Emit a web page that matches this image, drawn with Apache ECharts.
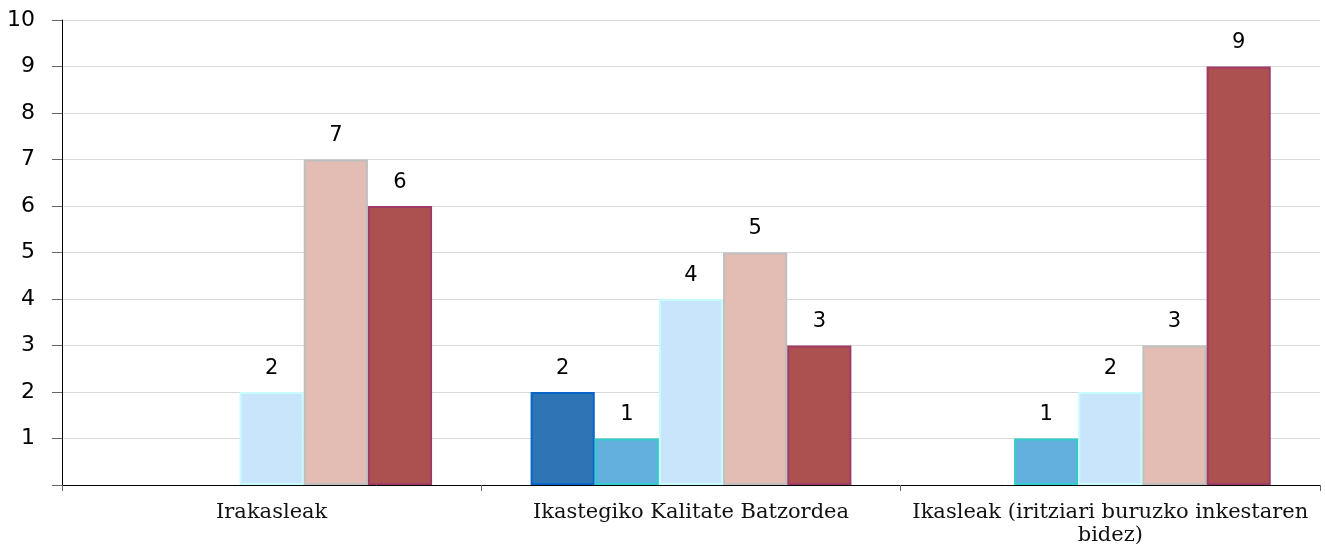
<!DOCTYPE html>
<html>
<head>
<meta charset="utf-8">
<script src="https://cdn.jsdelivr.net/npm/echarts@6/dist/echarts.min.js"></script>
<style>
  html, body { margin: 0; padding: 0; background: #fff; }
  #chart { width: 1325px; height: 550px; }
</style>
</head>
<body>
<div id="chart"></div>
<script>
// categories and series values (null = no bar)
const categories = ['Irakasleak', 'Ikastegiko Kalitate Batzordea', 'Ikasleak (iritziari buruzko inkestaren\nbidez)'];
const seriesA = [null, 2, null];
const seriesB = [null, 1, 1];
const seriesC = [2, 4, 2];
const seriesD = [7, 5, 3];
const seriesE = [6, 3, 9];

const fills = ['#2e75b6', '#63b0de', '#c9e5fc', '#e3bdb3', '#ad5050'];
const borders = ['#0a64c8', '#33cccc', '#c8fbfb', '#bfbfbf', '#9e3b66'];
const allData = [seriesA, seriesB, seriesC, seriesD, seriesE];

const chart = echarts.init(document.getElementById('chart'));

const series = allData.map((d, i) => ({
    type: 'bar',
    data: d,
    barGap: '0%',
    barCategoryGap: '23.5%',
    itemStyle: {
        color: fills[i],
        borderColor: borders[i],
        borderWidth: 2
    },
    label: {
        show: true,
        position: 'top',
        distance: 13,
        color: '#000',
        fontSize: 21,
        fontFamily: 'DejaVu Sans'
    }
}));

chart.setOption({
    animation: false,
    grid: { left: 62, right: 5, top: 20, bottom: 65 },
    xAxis: {
        type: 'category',
        data: categories,
        axisLine: { lineStyle: { color: '#000', width: 1 } },
        axisTick: { show: true, length: 6, lineStyle: { color: '#666' } },
        axisLabel: {
            color: '#111',
            fontSize: 21,
            fontFamily: 'DejaVu Serif',
            margin: 16,
            lineHeight: 23,
            interval: 0
        }
    },
    yAxis: {
        type: 'value',
        min: 0,
        max: 10,
        interval: 1,
        axisLine: { show: true, lineStyle: { color: '#000', width: 1 } },
        axisTick: { show: true, length: 10, lineStyle: { color: '#666' } },
        axisLabel: {
            color: '#000',
            fontSize: 22,
            fontFamily: 'DejaVu Sans',
            margin: 27,
            formatter: v => v === 0 ? '' : v
        },
        splitLine: { lineStyle: { color: '#d9d9d9' } }
    },
    series: series
});
</script>
</body>
</html>
